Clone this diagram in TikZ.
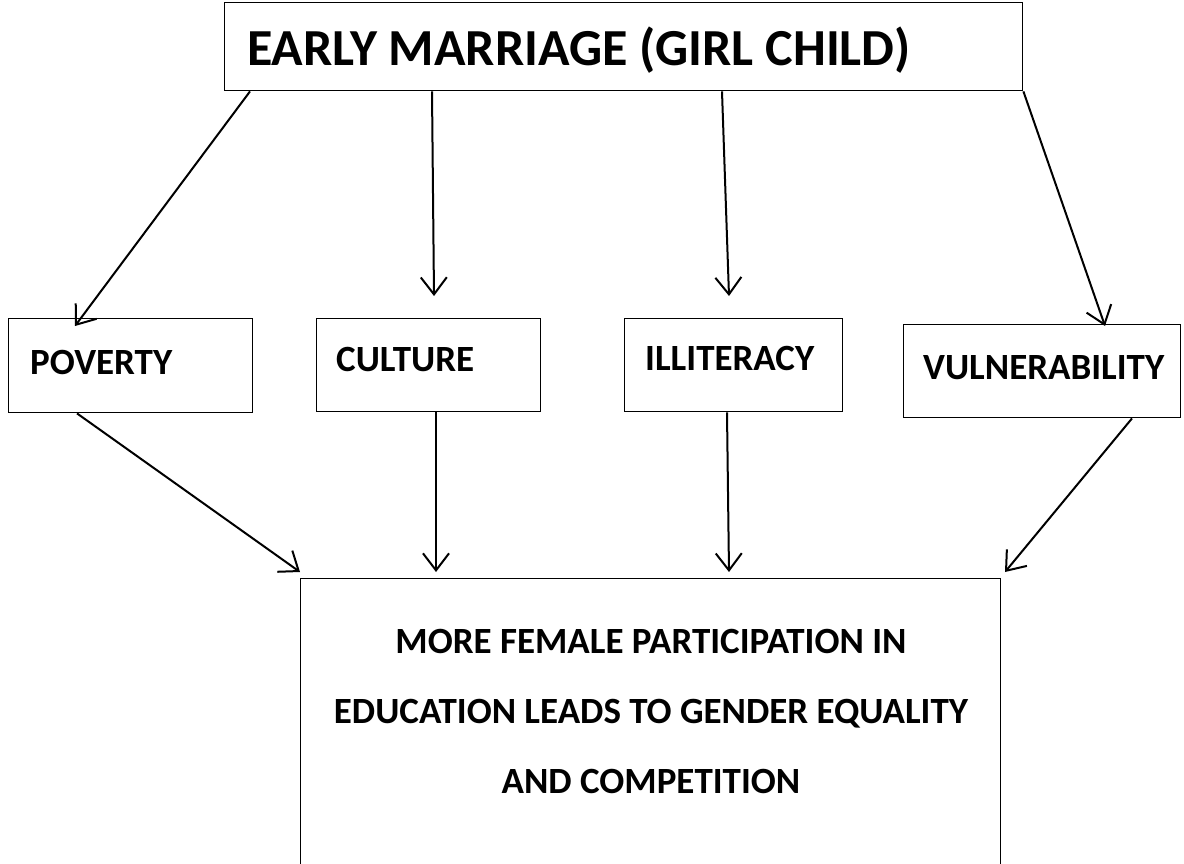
\documentclass[tikz,border=0pt]{standalone}
\usepackage{fontspec}
\setmainfont{Carlito}
\usetikzlibrary{arrows.meta}
\begin{document}
\begin{tikzpicture}[x=1pt,y=-1pt,
  box/.style={draw=black,line width=1.4pt,inner sep=0pt,anchor=north west},
  lbl/.style={anchor=west,inner sep=0pt,font=\fontsize{37}{42}\selectfont\bfseries},
  arr/.style={line width=2pt,-{Straight Barb[length=17pt,width=26pt,line width=2pt]}}]
\useasboundingbox (0,0) rectangle (1184,864);
\fill[white] (0,0) rectangle (1184,864);

% boxes
\node[box,minimum width=798pt,minimum height=88pt] (top) at (224,2) {};
\node[box,minimum width=244pt,minimum height=94pt] (pov) at (8,318) {};
\node[box,minimum width=224pt,minimum height=93pt] (cul) at (316,318) {};
\node[box,minimum width=218pt,minimum height=93pt] (ill) at (624,318) {};
\node[box,minimum width=277pt,minimum height=93pt] (vul) at (903,324) {};
\begin{scope}
\clip (0,0) rectangle (1184,864);
\node[box,minimum width=700pt,minimum height=300pt] (res) at (300,578) {};
\end{scope}

% texts
\node[lbl,font=\fontsize{52}{56}\selectfont\bfseries] (ttop) at (247,50) {EARLY MARRIAGE (GIRL CHILD)};
\node[lbl] (tpov) at (30,362) {POVERTY};
\node[lbl] (tcul) at (336,360) {CULTURE};
\node[lbl] (till) at (645,358) {ILLITERACY};
\node[lbl] (tvul) at (923,368) {VULNERABILITY};
\node[lbl,anchor=center,align=center,font=\fontsize{37}{70}\selectfont\bfseries] (tres) at (651,711)
  {MORE FEMALE PARTICIPATION IN\\EDUCATION LEADS TO GENDER EQUALITY\\AND COMPETITION};

% arrow ends
\coordinate (a1) at (75,326);
\coordinate (a2) at (434,296);
\coordinate (a3) at (729,296);
\coordinate (a4) at (1105,326);
\coordinate (b1) at (300,572);
\coordinate (b2) at (436,572);
\coordinate (b3) at (729,572);
\coordinate (b4) at (1005,572);

% top box to the four causes
\draw[arr] (top.south west -| 250,0) -- (a1);
\draw[arr] (top.south west -| 432,0) -- (a2);
\draw[arr] (top.south west -| 722,0) -- (a3);
\draw[arr] (top.south east) -- (a4);

% causes to the outcome
\draw[arr] (pov.south west -| 77,0) -- (b1);
\draw[arr] (cul.south west -| 436,0) -- (b2);
\draw[arr] (ill.south west -| 727,0) -- (b3);
\draw[arr] (vul.south west -| 1132,0) -- (b4);
\end{tikzpicture}
\end{document}
